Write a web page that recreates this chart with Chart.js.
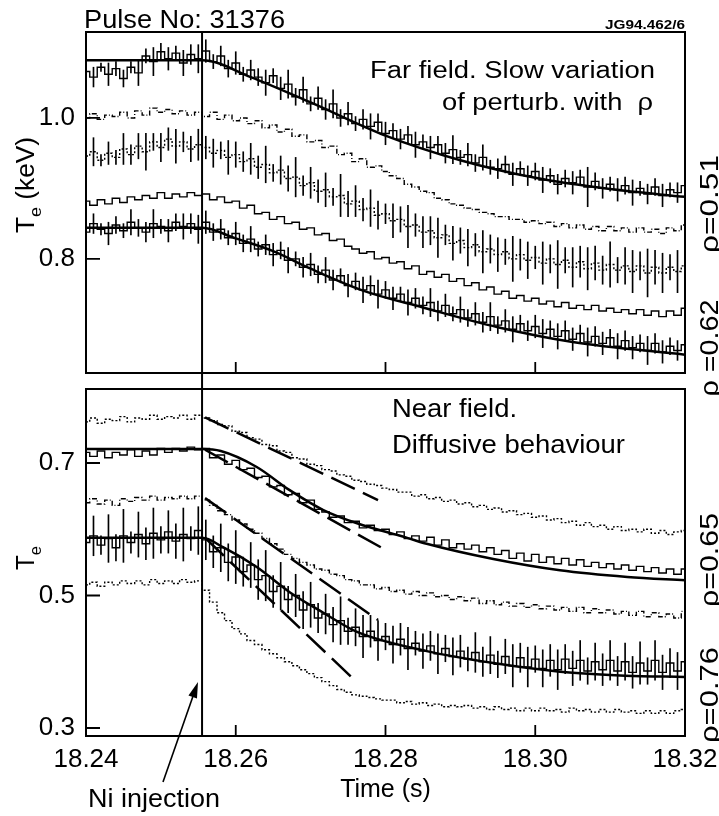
<!DOCTYPE html>
<html>
<head>
<meta charset="utf-8">
<script src="https://cdn.jsdelivr.net/npm/chart.js@4"></script>
<style>
  html, body { margin: 0; padding: 0; background: #fff; overflow: hidden; }
  #wrap { position: relative; width: 719px; height: 816px; }
  #wrap canvas { position: absolute; left: 0; top: 0; }
</style>
</head>
<body>
<div id="wrap">
  <canvas id="farChart" width="719" height="816"></canvas>
  <canvas id="nearChart" width="719" height="816"></canvas>
</div>
<script>
// sample times of the ECE traces (s)
const sampleTimes = [
  18.240, 18.241, 18.242, 18.243, 18.244, 18.245, 18.246, 18.247, 18.248, 18.249,
  18.250, 18.251, 18.252, 18.253, 18.254, 18.255, 18.256, 18.257, 18.258, 18.259,
  18.260, 18.261, 18.262, 18.263, 18.264, 18.265, 18.266, 18.267, 18.268, 18.269,
  18.270, 18.271, 18.272, 18.273, 18.274, 18.275, 18.276, 18.277, 18.278, 18.279,
  18.280, 18.281, 18.282, 18.283, 18.284, 18.285, 18.286, 18.287, 18.288, 18.289,
  18.290, 18.291, 18.292, 18.293, 18.294, 18.295, 18.296, 18.297, 18.298, 18.299,
  18.300, 18.301, 18.302, 18.303, 18.304, 18.305, 18.306, 18.307, 18.308, 18.309,
  18.310, 18.311, 18.312, 18.313, 18.314, 18.315, 18.316, 18.317, 18.318, 18.319,
  18.320
];
const injectionTime = 18.2555;
const timeTicks = [18.24, 18.26, 18.28, 18.30, 18.32];
const farTicks = [0.8, 1.0];
const nearTicks = [0.3, 0.5, 0.7];

// far field, Te (keV), top to bottom
const farTe1 = [
  1.066, 1.058, 1.072, 1.062, 1.070, 1.056, 1.072, 1.064, 1.088, 1.080,
  1.094, 1.084, 1.092, 1.078, 1.090, 1.084, 1.095, 1.080, 1.088, 1.070,
  1.078, 1.062, 1.068, 1.058, 1.050, 1.060, 1.042, 1.048, 1.030, 1.040,
  1.020, 1.028, 1.012, 1.020, 1.000, 1.006, 0.992, 0.998, 0.988, 0.994,
  0.978, 0.982, 0.970, 0.976, 0.962, 0.966, 0.958, 0.962, 0.950, 0.955,
  0.944, 0.948, 0.936, 0.944, 0.930, 0.928, 0.934, 0.920, 0.928, 0.918,
  0.924, 0.912, 0.918, 0.906, 0.914, 0.908, 0.916, 0.902, 0.910, 0.900,
  0.906, 0.898, 0.904, 0.894, 0.900, 0.892, 0.902, 0.890, 0.898, 0.894,
  0.904
];
const farTe2 = [
  1.000, 1.006, 0.998, 1.004, 1.002, 1.008, 1.000, 1.010, 1.004, 1.014,
  1.008, 1.012, 1.006, 1.010, 1.004, 1.008, 1.002, 1.008, 0.998, 1.004,
  0.996, 1.000, 0.992, 0.996, 0.986, 0.990, 0.980, 0.984, 0.974, 0.976,
  0.966, 0.968, 0.958, 0.960, 0.948, 0.950, 0.938, 0.942, 0.930, 0.932,
  0.924, 0.918, 0.914, 0.906, 0.902, 0.896, 0.894, 0.886, 0.884, 0.878,
  0.876, 0.872, 0.870, 0.866, 0.864, 0.860, 0.860, 0.856, 0.856, 0.852,
  0.854, 0.850, 0.852, 0.846, 0.850, 0.844, 0.848, 0.842, 0.846, 0.840,
  0.846, 0.840, 0.844, 0.838, 0.844, 0.838, 0.842, 0.836, 0.844, 0.840,
  0.848
];
const farTe3 = [
  0.946, 0.952, 0.940, 0.950, 0.944, 0.956, 0.948, 0.960, 0.952, 0.966,
  0.958, 0.970, 0.960, 0.966, 0.956, 0.962, 0.958, 0.950, 0.954, 0.944,
  0.948, 0.938, 0.942, 0.930, 0.934, 0.922, 0.926, 0.914, 0.916, 0.904,
  0.908, 0.896, 0.898, 0.888, 0.890, 0.878, 0.882, 0.870, 0.872, 0.862,
  0.864, 0.854, 0.856, 0.846, 0.848, 0.838, 0.840, 0.830, 0.834, 0.822,
  0.826, 0.816, 0.820, 0.810, 0.814, 0.806, 0.810, 0.800, 0.806, 0.798,
  0.802, 0.794, 0.800, 0.792, 0.798, 0.788, 0.796, 0.786, 0.794, 0.784,
  0.792, 0.784, 0.790, 0.782, 0.790, 0.780, 0.788, 0.780, 0.788, 0.782,
  0.790
];
const farTe4 = [
  0.882, 0.876, 0.884, 0.878, 0.886, 0.880, 0.888, 0.884, 0.890, 0.886,
  0.894, 0.886, 0.892, 0.888, 0.894, 0.890, 0.892, 0.884, 0.888, 0.880,
  0.882, 0.872, 0.876, 0.864, 0.866, 0.856, 0.860, 0.850, 0.852, 0.842,
  0.844, 0.834, 0.836, 0.826, 0.828, 0.818, 0.814, 0.808, 0.810, 0.800,
  0.802, 0.794, 0.796, 0.786, 0.790, 0.778, 0.782, 0.774, 0.778, 0.768,
  0.772, 0.762, 0.766, 0.756, 0.760, 0.750, 0.754, 0.744, 0.748, 0.740,
  0.744, 0.736, 0.740, 0.732, 0.738, 0.730, 0.734, 0.728, 0.734, 0.726,
  0.730, 0.724, 0.728, 0.722, 0.728, 0.720, 0.726, 0.718, 0.726, 0.720,
  0.730
];
const farTe5 = [
  0.838, 0.850, 0.842, 0.836, 0.848, 0.840, 0.852, 0.844, 0.838, 0.850,
  0.846, 0.840, 0.852, 0.846, 0.850, 0.842, 0.852, 0.838, 0.842, 0.830,
  0.836, 0.822, 0.828, 0.814, 0.820, 0.806, 0.812, 0.798, 0.800, 0.788,
  0.792, 0.778, 0.784, 0.770, 0.776, 0.762, 0.768, 0.756, 0.762, 0.750,
  0.756, 0.744, 0.750, 0.738, 0.744, 0.734, 0.738, 0.726, 0.734, 0.722,
  0.728, 0.716, 0.722, 0.710, 0.718, 0.706, 0.712, 0.700, 0.708, 0.698,
  0.704, 0.694, 0.700, 0.690, 0.698, 0.686, 0.694, 0.682, 0.690, 0.680,
  0.688, 0.676, 0.684, 0.674, 0.680, 0.670, 0.680, 0.668, 0.676, 0.670,
  0.678
];
// error bar half-lengths (keV)
const farErr1 = [
  0.008, 0.014, 0.006, 0.016, 0.010, 0.012, 0.008, 0.018, 0.010, 0.020,
  0.012, 0.016, 0.010, 0.018, 0.014, 0.020, 0.016, 0.010, 0.014, 0.012,
  0.016, 0.010, 0.014, 0.012, 0.018, 0.010, 0.016, 0.020, 0.012, 0.018,
  0.010, 0.016, 0.014, 0.020, 0.012, 0.016, 0.010, 0.014, 0.018, 0.012,
  0.016, 0.010, 0.014, 0.012, 0.018, 0.010, 0.016, 0.012, 0.014, 0.020,
  0.010, 0.016, 0.012, 0.018, 0.010, 0.014, 0.012, 0.016, 0.010, 0.014,
  0.012, 0.018, 0.010, 0.014, 0.012, 0.016, 0.010, 0.028, 0.012, 0.014,
  0.010, 0.016, 0.012, 0.018, 0.010, 0.014, 0.012, 0.016, 0.010, 0.014,
  0.012
];
const farErr3 = [
  0.012, 0.020, 0.008, 0.016, 0.010, 0.022, 0.014, 0.018, 0.026, 0.012,
  0.020, 0.016, 0.024, 0.014, 0.018, 0.022, 0.016, 0.020, 0.012, 0.024,
  0.018, 0.014, 0.022, 0.016, 0.026, 0.012, 0.020, 0.018, 0.028, 0.014,
  0.022, 0.016, 0.024, 0.012, 0.030, 0.018, 0.022, 0.016, 0.026, 0.020,
  0.014, 0.024, 0.018, 0.030, 0.016, 0.022, 0.020, 0.028, 0.014, 0.024,
  0.018, 0.026, 0.016, 0.030, 0.020, 0.024, 0.018, 0.032, 0.022, 0.026,
  0.016, 0.030, 0.020, 0.034, 0.018, 0.028, 0.022, 0.030, 0.024, 0.020,
  0.032, 0.018, 0.026, 0.030, 0.020, 0.034, 0.024, 0.028, 0.018, 0.030,
  0.026
];
const farErr5 = [
  0.010, 0.014, 0.008, 0.016, 0.012, 0.010, 0.018, 0.012, 0.014, 0.020,
  0.010, 0.016, 0.012, 0.018, 0.014, 0.020, 0.016, 0.012, 0.014, 0.010,
  0.016, 0.012, 0.018, 0.010, 0.014, 0.016, 0.012, 0.018, 0.010, 0.014,
  0.016, 0.012, 0.018, 0.014, 0.010, 0.016, 0.012, 0.018, 0.014, 0.020,
  0.012, 0.016, 0.010, 0.018, 0.014, 0.012, 0.020, 0.014, 0.016, 0.010,
  0.018, 0.012, 0.016, 0.014, 0.020, 0.012, 0.016, 0.018, 0.012, 0.014,
  0.016, 0.020, 0.012, 0.018, 0.014, 0.016, 0.012, 0.020, 0.014, 0.016,
  0.012, 0.018, 0.014, 0.016, 0.012, 0.020, 0.014, 0.016, 0.012, 0.014,
  0.016
];
// far field model curves
const farFit1Times = [18.240, 18.2555, 18.262, 18.270, 18.280, 18.290, 18.300, 18.310, 18.320];
const farFit1Values = [1.082, 1.082, 1.058, 1.022, 0.975, 0.940, 0.915, 0.899, 0.888];
const farFit5Times = [18.240, 18.2555, 18.260, 18.265, 18.270, 18.277, 18.285, 18.295, 18.305, 18.320];
const farFit5Values = [0.844, 0.844, 0.829, 0.811, 0.786, 0.755, 0.731, 0.703, 0.682, 0.664];

// near field, Te (keV), top to bottom
const nearTe1 = [
  0.762, 0.768, 0.760, 0.766, 0.764, 0.770, 0.762, 0.768, 0.766, 0.772,
  0.766, 0.770, 0.768, 0.772, 0.766, 0.772, 0.768, 0.764, 0.758, 0.756,
  0.748, 0.746, 0.738, 0.736, 0.728, 0.726, 0.718, 0.716, 0.708, 0.706,
  0.698, 0.696, 0.690, 0.688, 0.682, 0.680, 0.674, 0.672, 0.668, 0.666,
  0.662, 0.660, 0.656, 0.656, 0.650, 0.652, 0.646, 0.648, 0.642, 0.644,
  0.638, 0.640, 0.634, 0.636, 0.630, 0.632, 0.626, 0.628, 0.622, 0.624,
  0.618, 0.620, 0.614, 0.616, 0.610, 0.612, 0.606, 0.610, 0.604, 0.606,
  0.600, 0.604, 0.598, 0.600, 0.596, 0.600, 0.594, 0.598, 0.592, 0.596,
  0.598
];
const nearTe2 = [
  0.716, 0.710, 0.718, 0.708, 0.716, 0.712, 0.720, 0.710, 0.718, 0.712,
  0.722, 0.716, 0.722, 0.718, 0.724, 0.720, 0.722, 0.708, 0.712, 0.698,
  0.704, 0.690, 0.692, 0.678, 0.680, 0.664, 0.666, 0.652, 0.654, 0.640,
  0.644, 0.630, 0.626, 0.618, 0.620, 0.610, 0.612, 0.602, 0.606, 0.598,
  0.600, 0.592, 0.596, 0.586, 0.590, 0.582, 0.588, 0.576, 0.584, 0.572,
  0.578, 0.570, 0.576, 0.566, 0.572, 0.562, 0.568, 0.556, 0.564, 0.552,
  0.562, 0.550, 0.558, 0.548, 0.556, 0.546, 0.554, 0.544, 0.550, 0.542,
  0.548, 0.540, 0.546, 0.538, 0.544, 0.536, 0.542, 0.534, 0.540, 0.532,
  0.540
];
const nearTe3 = [
  0.640, 0.646, 0.638, 0.644, 0.636, 0.646, 0.642, 0.648, 0.644, 0.650,
  0.644, 0.648, 0.646, 0.650, 0.646, 0.650, 0.644, 0.636, 0.628, 0.622,
  0.614, 0.608, 0.600, 0.594, 0.586, 0.578, 0.570, 0.562, 0.556, 0.550,
  0.546, 0.540, 0.538, 0.532, 0.530, 0.524, 0.522, 0.516, 0.516, 0.510,
  0.512, 0.506, 0.508, 0.502, 0.506, 0.500, 0.504, 0.498, 0.500, 0.494,
  0.498, 0.492, 0.496, 0.488, 0.492, 0.486, 0.490, 0.484, 0.488, 0.482,
  0.486, 0.480, 0.484, 0.478, 0.482, 0.476, 0.482, 0.474, 0.480, 0.474,
  0.478, 0.472, 0.476, 0.470, 0.476, 0.468, 0.474, 0.468, 0.472, 0.466,
  0.476
];
const nearTe4 = [
  0.580, 0.590, 0.576, 0.586, 0.572, 0.590, 0.580, 0.592, 0.578, 0.594,
  0.584, 0.596, 0.582, 0.592, 0.586, 0.598, 0.584, 0.566, 0.572, 0.550,
  0.558, 0.536, 0.546, 0.524, 0.530, 0.506, 0.514, 0.494, 0.500, 0.478,
  0.486, 0.466, 0.472, 0.456, 0.462, 0.446, 0.452, 0.438, 0.446, 0.432,
  0.438, 0.426, 0.434, 0.420, 0.428, 0.416, 0.424, 0.412, 0.420, 0.408,
  0.416, 0.404, 0.414, 0.400, 0.410, 0.396, 0.408, 0.394, 0.406, 0.392,
  0.404, 0.390, 0.402, 0.388, 0.404, 0.390, 0.402, 0.386, 0.400, 0.388,
  0.402, 0.386, 0.400, 0.384, 0.398, 0.386, 0.402, 0.384, 0.398, 0.386,
  0.400
];
const nearTe5 = [
  0.516, 0.520, 0.514, 0.520, 0.516, 0.522, 0.518, 0.522, 0.516, 0.524,
  0.518, 0.522, 0.518, 0.524, 0.520, 0.522, 0.508, 0.490, 0.474, 0.462,
  0.450, 0.442, 0.432, 0.426, 0.418, 0.412, 0.406, 0.400, 0.394, 0.388,
  0.382, 0.376, 0.370, 0.364, 0.358, 0.354, 0.350, 0.348, 0.346, 0.344,
  0.342, 0.342, 0.338, 0.340, 0.336, 0.338, 0.334, 0.336, 0.332, 0.334,
  0.332, 0.334, 0.330, 0.332, 0.328, 0.332, 0.328, 0.330, 0.326, 0.330,
  0.326, 0.330, 0.326, 0.328, 0.324, 0.330, 0.326, 0.328, 0.324, 0.328,
  0.324, 0.328, 0.324, 0.326, 0.322, 0.326, 0.322, 0.326, 0.322, 0.326,
  0.328
];
const nearErr4 = [
  0.018, 0.030, 0.014, 0.036, 0.020, 0.040, 0.016, 0.034, 0.024, 0.038,
  0.020, 0.032, 0.026, 0.040, 0.018, 0.036, 0.030, 0.024, 0.036, 0.028,
  0.040, 0.022, 0.034, 0.030, 0.038, 0.024, 0.036, 0.020, 0.032, 0.028,
  0.034, 0.022, 0.030, 0.026, 0.036, 0.020, 0.028, 0.032, 0.024, 0.030,
  0.020, 0.028, 0.024, 0.032, 0.018, 0.026, 0.022, 0.030, 0.020, 0.028,
  0.024, 0.018, 0.030, 0.022, 0.028, 0.020, 0.026, 0.032, 0.022, 0.030,
  0.020, 0.028, 0.024, 0.030, 0.022, 0.026, 0.030, 0.020, 0.028, 0.024,
  0.030, 0.022, 0.028, 0.024, 0.032, 0.020, 0.030, 0.026, 0.022, 0.028,
  0.024
];
// near field model curves
const nearFit2Times = [18.240, 18.2555, 18.258, 18.2628, 18.2672, 18.2717, 18.2762, 18.2829, 18.2855, 18.2944, 18.3033, 18.3123, 18.320];
const nearFit2Values = [0.721, 0.721, 0.718, 0.694, 0.659, 0.629, 0.609, 0.587, 0.578, 0.555, 0.538, 0.528, 0.523];
const nearFit4Times = [18.240, 18.2555, 18.2583, 18.2628, 18.2672, 18.2717, 18.2762, 18.2855, 18.2944, 18.3033, 18.312, 18.320];
const nearFit4Values = [0.587, 0.587, 0.573, 0.543, 0.505, 0.474, 0.445, 0.416, 0.398, 0.385, 0.379, 0.377];
// long-dashed initial slopes
const slopeTimes = [[18.2559, 18.2790], [18.2559, 18.2795], [18.2559, 18.2790], [18.2559, 18.2759]];
const slopeValues = [[0.769, 0.644], [0.720, 0.572], [0.647, 0.463], [0.587, 0.372]];

const FONT = '"Liberation Sans", Arial, Helvetica, sans-serif';
Chart.defaults.font.family = FONT;
Chart.defaults.color = '#000';

function seriesPoints(values) {
    return values.map((v, i) => ({x: sampleTimes[i], y: v}));
}
function pairPoints(ts, vs) {
    return ts.map((t, i) => ({x: t, y: vs[i]}));
}
function dataLine(values, dash) {
    return {type: 'line', data: seriesPoints(values), borderColor: '#000', borderWidth: 1.4,
        borderDash: dash || [], pointRadius: 0, stepped: 'middle'};
}
function fitLine(ts, vs) {
    return {type: 'line', data: pairPoints(ts, vs), borderColor: '#000', borderWidth: 2.5,
        pointRadius: 0, cubicInterpolationMode: 'monotone'};
}
function slopeLine(k) {
    return {type: 'line', data: pairPoints(slopeTimes[k], slopeValues[k]), borderColor: '#000',
        borderWidth: 2.5, borderDash: [26, 9], pointRadius: 0};
}
function errorBars(values, errs) {
    const out = [];
    values.forEach((v, i) => { if (errs[i] > 0) out.push({x: sampleTimes[i], y: [v - errs[i], v + errs[i]]}); });
    return {type: 'bar', data: out, backgroundColor: '#000', barThickness: 1, grouped: false};
}

// text squeezed/stretched to the width measured on the figure
function text(ctx, str, x, y, size, align, width, weight) {
    ctx.save();
    ctx.font = (weight || '') + ' ' + size + 'px ' + FONT;
    const w = ctx.measureText(str).width;
    ctx.translate(x, y);
    ctx.scale(width ? width / w : 1, 1);
    ctx.textAlign = align;
    ctx.textBaseline = 'alphabetic';
    ctx.fillStyle = '#000';
    ctx.fillText(str, 0, 0);
    ctx.restore();
}
function vtext(ctx, str, x, yc, size, width) {
    ctx.save();
    ctx.font = size + 'px ' + FONT;
    const w = ctx.measureText(str).width;
    ctx.translate(x, yc);
    ctx.rotate(-Math.PI / 2);
    ctx.scale(width / w, 1);
    ctx.textAlign = 'center';
    ctx.textBaseline = 'alphabetic';
    ctx.fillStyle = '#000';
    ctx.fillText(str, 0, 0);
    ctx.restore();
}
function yTitle(ctx, x, yc, unit, width) {
    ctx.save();
    const big = '25px ' + FONT, small = '17px ' + FONT;
    ctx.font = big;
    const wT = ctx.measureText('T').width;
    const wU = unit ? ctx.measureText(unit).width : 0;
    ctx.font = small;
    const wE = ctx.measureText('e').width;
    const total = wT + wE + wU;
    ctx.translate(x, yc);
    ctx.rotate(-Math.PI / 2);
    ctx.scale(width / total, 1);
    ctx.fillStyle = '#000';
    ctx.textBaseline = 'alphabetic';
    ctx.textAlign = 'left';
    let cx = -total / 2;
    ctx.font = big; ctx.fillText('T', cx, 0); cx += wT;
    ctx.font = small; ctx.fillText('e', cx, 7); cx += wE;
    if (unit) { ctx.font = big; ctx.fillText(unit, cx, 0); }
    ctx.restore();
}

function framePlugin(extendBelow) {
    return {
        id: 'frame',
        afterDatasetsDraw(chart) {
            const {ctx, chartArea: a, scales: {x, y}} = chart;
            ctx.save();
            ctx.strokeStyle = '#000';
            ctx.lineWidth = 2;
            ctx.strokeRect(a.left, a.top, a.right - a.left, a.bottom - a.top);
            ctx.lineWidth = 1.8;
            ctx.beginPath();
            timeTicks.forEach(v => {
                const px = x.getPixelForValue(v);
                if (px > a.left + 2 && px < a.right - 2) { ctx.moveTo(px, a.bottom); ctx.lineTo(px, a.bottom - 11); }
            });
            y.ticks.forEach(t => {
                const py = y.getPixelForValue(t.value);
                ctx.moveTo(a.left, py); ctx.lineTo(a.left + 14, py);
            });
            ctx.stroke();
            const xi = x.getPixelForValue(injectionTime);
            ctx.lineWidth = 2;
            ctx.beginPath();
            ctx.moveTo(xi, a.top);
            ctx.lineTo(xi, a.bottom + extendBelow);
            ctx.stroke();
            ctx.restore();
        }
    };
}

const farNotes = {
    id: 'farNotes',
    afterDraw(chart) {
        const ctx = chart.ctx;
        text(ctx, 'Pulse No: 31376', 84, 28, 25, 'left', 201);
        text(ctx, 'JG94.462/6', 685, 29, 13, 'right', 80, 'bold');
        text(ctx, 'Far field. Slow variation', 655, 78, 23, 'right', 285);
        text(ctx, 'of perturb. with  \u03c1', 653, 110, 23, 'right', 211);
        vtext(ctx, '\u03c1=0.51', 718, 204, 26, 98);
        vtext(ctx, '\u03c1 =0.62', 718, 348, 26, 97);
        yTitle(ctx, 34, 185, ' (keV)', 96);
    }
};

const nearNotes = {
    id: 'nearNotes',
    afterDraw(chart) {
        const ctx = chart.ctx;
        text(ctx, 'Near field.', 392, 417, 25, 'left', 125);
        text(ctx, 'Diffusive behaviour', 392, 453, 25, 'left', 233);
        vtext(ctx, '\u03c1=0.65', 718, 560, 26, 94);
        vtext(ctx, '\u03c1=0.76', 718, 695, 26, 96);
        yTitle(ctx, 34, 558, '', 24);
        text(ctx, 'Ni injection', 88, 807, 25, 'left', 132);
        // arrow pointing at the injection line
        const tail = [163, 782], head = [198, 682];
        const dx = head[0] - tail[0], dy = head[1] - tail[1], len = Math.hypot(dx, dy);
        const ux = dx / len, uy = dy / len;
        ctx.save();
        ctx.strokeStyle = '#000';
        ctx.fillStyle = '#000';
        ctx.lineWidth = 1.6;
        ctx.beginPath();
        ctx.moveTo(tail[0], tail[1]);
        ctx.lineTo(head[0] - ux * 12, head[1] - uy * 12);
        ctx.stroke();
        const bx = head[0] - ux * 16, by = head[1] - uy * 16;
        ctx.beginPath();
        ctx.moveTo(head[0], head[1]);
        ctx.lineTo(bx - uy * 4.5, by + ux * 4.5);
        ctx.lineTo(bx + uy * 4.5, by - ux * 4.5);
        ctx.closePath();
        ctx.fill();
        ctx.restore();
    }
};

function panelOptions(yMin, yMax, yTicks, pad, showTime) {
    return {
        responsive: false,
        animation: false,
        events: [],
        layout: {padding: pad},
        plugins: {legend: {display: false}, tooltip: {enabled: false}},
        scales: {
            x: {
                type: 'linear', min: 18.24, max: 18.32, offset: false, display: showTime,
                grid: {display: false, drawTicks: false}, border: {display: false},
                afterBuildTicks: s => { s.ticks = timeTicks.map(v => ({value: v})); },
                afterFit: s => { s.paddingLeft = 0; s.paddingRight = 0; if (showTime) s.height = 80; },
                ticks: {font: {size: 26}, padding: 8, maxRotation: 0, autoSkip: false, callback: v => v.toFixed(2)},
                title: {display: showTime, text: 'Time (s)', font: {size: 25}, padding: {top: 0, bottom: 11}}
            },
            y: {
                type: 'linear', min: yMin, max: yMax,
                grid: {display: false, drawTicks: false}, border: {display: false},
                afterBuildTicks: s => { s.ticks = yTicks.map(v => ({value: v})); },
                afterFit: s => { s.width = 86; s.paddingTop = 0; s.paddingBottom = 0; },
                ticks: {font: {size: 26}, padding: 11, autoSkip: false, callback: v => v.toFixed(1)}
            }
        }
    };
}

function drawFarField(canvas) {
    const ctx = document.getElementById(canvas);
    new Chart(ctx, {
        type: 'line',
        data: {
            datasets: [
                errorBars(farTe1, farErr1),
                errorBars(farTe3, farErr3),
                errorBars(farTe5, farErr5),
                dataLine(farTe1),
                dataLine(farTe2, [5, 2, 1, 2]),
                dataLine(farTe3, [2, 2]),
                dataLine(farTe4),
                dataLine(farTe5),
                fitLine(farFit1Times, farFit1Values),
                fitLine(farFit5Times, farFit5Values)
            ]
        },
        options: panelOptions(0.638, 1.122, farTicks, {top: 32, right: 34, bottom: 443, left: 0}, false),
        plugins: [framePlugin(16), farNotes]
    });
}

function drawNearField(canvas) {
    const ctx = document.getElementById(canvas);
    new Chart(ctx, {
        type: 'line',
        data: {
            datasets: [
                errorBars(nearTe4, nearErr4),
                dataLine(nearTe1, [2, 2]),
                dataLine(nearTe2),
                dataLine(nearTe3, [5, 2, 1, 2]),
                dataLine(nearTe4),
                dataLine(nearTe5, [2, 2]),
                fitLine(nearFit2Times, nearFit2Values),
                fitLine(nearFit4Times, nearFit4Values),
                slopeLine(0), slopeLine(1), slopeLine(2), slopeLine(3)
            ]
        },
        options: panelOptions(0.2879, 0.8117, nearTicks, {top: 389, right: 34, bottom: 0, left: 0}, true),
        plugins: [framePlugin(0), nearNotes]
    });
}

drawFarField('farChart');
drawNearField('nearChart');
</script>
</body>
</html>
